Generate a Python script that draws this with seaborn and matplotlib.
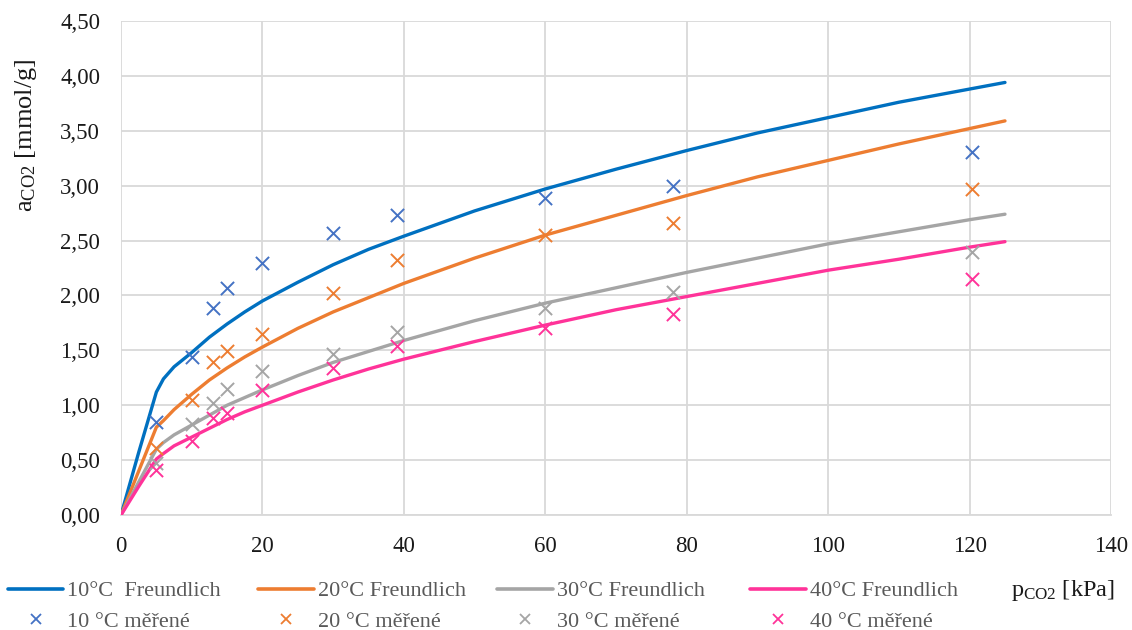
import matplotlib
matplotlib.use("Agg")
import matplotlib.pyplot as plt
import seaborn as sns
from matplotlib.lines import Line2D
from matplotlib.ticker import FuncFormatter, MultipleLocator

# ---------------- data ----------------
p_fit = [0, 2.5, 5, 6, 7.5, 10, 12.5, 15, 17.5, 20, 25, 30, 35, 40, 50, 60, 70, 80, 90, 100, 110, 120, 125]
a_fit_10 = [0, 0.57, 1.12, 1.24, 1.35, 1.48, 1.62, 1.74, 1.85, 1.95, 2.12, 2.28, 2.42, 2.54,
            2.77, 2.97, 3.15, 3.32, 3.48, 3.62, 3.76, 3.88, 3.94]
a_fit_20 = [0, 0.40, 0.80, 0.86, 0.96, 1.10, 1.23, 1.34, 1.44, 1.53, 1.70, 1.85, 1.98, 2.11,
            2.34, 2.55, 2.73, 2.91, 3.08, 3.23, 3.38, 3.52, 3.59]
a_fit_30 = [0, 0.30, 0.60, 0.66, 0.73, 0.82, 0.91, 1.00, 1.07, 1.14, 1.27, 1.39, 1.49, 1.59,
            1.77, 1.93, 2.07, 2.21, 2.34, 2.47, 2.58, 2.69, 2.74]
a_fit_40 = [0, 0.26, 0.51, 0.56, 0.63, 0.71, 0.79, 0.87, 0.94, 1.00, 1.12, 1.23, 1.33, 1.42,
            1.58, 1.73, 1.87, 1.99, 2.11, 2.23, 2.33, 2.44, 2.49]

p_meas = [5, 10, 13, 15, 20, 30, 39, 60, 78, 120.4]
a_meas_10 = [0.85, 1.44, 1.89, 2.07, 2.30, 2.57, 2.73, 2.89, 3.00, 3.31]
a_meas_20 = [0.61, 1.05, 1.39, 1.49, 1.65, 2.02, 2.32, 2.55, 2.66, 2.97]
a_meas_30 = [0.47, 0.83, 1.02, 1.15, 1.31, 1.47, 1.67, 1.89, 2.03, 2.40]
a_meas_40 = [0.41, 0.67, 0.88, 0.93, 1.14, 1.34, 1.54, 1.70, 1.83, 2.15]

fit_labels = ["10°C  Freundlich", "20°C Freundlich", "30°C Freundlich", "40°C Freundlich"]
meas_labels = ["10 °C měřené", "20 °C měřené", "30 °C měřené", "40 °C měřené"]
line_colors = ["#0070C0", "#ED7D31", "#A5A5A5", "#FF3399"]
marker_colors = ["#4472C4", "#ED7D31", "#A5A5A5", "#FF3399"]

# ---------------- style ----------------
sns.set_theme(style="white")
plt.rcParams['font.family'] = ['Liberation Serif', 'DejaVu Serif']
plt.rcParams['mathtext.fontset'] = 'custom'
plt.rcParams['mathtext.rm'] = 'Liberation Serif'
plt.rcParams['mathtext.it'] = 'Liberation Serif:italic'

fig = plt.figure(figsize=(11.32, 6.30), dpi=100)
ax = fig.add_axes([0.1069, 0.1825, 0.8746, 0.7842])

fits = [a_fit_10, a_fit_20, a_fit_30, a_fit_40]
meas = [a_meas_10, a_meas_20, a_meas_30, a_meas_40]

for y, c in zip(fits, line_colors):
    sns.lineplot(x=p_fit, y=y, ax=ax, color=c, linewidth=2.4, legend=False,
                 sort=False, solid_capstyle='round', solid_joinstyle='round', zorder=3)
for y, c in zip(meas, marker_colors):
    sns.scatterplot(x=p_meas, y=y, ax=ax, color=c, marker='x', s=90,
                    linewidth=1.4, legend=False, zorder=4)

ax.set_xlim(0, 140)
ax.set_ylim(0, 4.5)
ax.xaxis.set_major_locator(MultipleLocator(20))
ax.yaxis.set_major_locator(MultipleLocator(0.5))
ax.yaxis.set_major_formatter(FuncFormatter(lambda v, _: f"{v:.2f}".replace(".", ",")))
ax.grid(True, color="#D9D9D9", linewidth=1.3)
ax.set_axisbelow(True)
for s in ax.spines.values():
    s.set_visible(False)
ax.spines['bottom'].set_visible(True)
ax.spines['bottom'].set_color("#D9D9D9")
ax.spines['bottom'].set_linewidth(1.3)
ax.tick_params(axis='both', length=0, labelsize=16.5, labelcolor="#1a1a1a")
ax.tick_params(axis='y', pad=15)
ax.tick_params(axis='x', pad=15)
ax.set_xlabel("")
ax.set_ylabel("")

fig.text(0.023, 0.786, r"a$_{\mathrm{CO2}}$ [mmol/g]", rotation=90, fontsize=19,
         color="#1a1a1a", ha='center', va='center')
fig.text(0.985, 0.063, r"p$_{\mathrm{CO2}}$ [kPa]", fontsize=17.5,
         color="#1a1a1a", ha='right', va='center')

# legends: four columns placed individually
col_x = [0.007, 0.228, 0.439, 0.6625]
for i in range(4):
    handles = [Line2D([0], [0], color=line_colors[i], lw=2.6),
               Line2D([0], [0], color=marker_colors[i], marker='x', linestyle='none',
                      markersize=7, markeredgewidth=1.3)]
    leg = fig.legend(handles, [fit_labels[i], meas_labels[i]], loc='upper left',
                     bbox_to_anchor=(col_x[i], 0.078), frameon=False, fontsize=16,
                     handlelength=2.5, handletextpad=0.18, labelspacing=0.45,
                     borderaxespad=0.0, borderpad=0.0)
    for t in leg.get_texts():
        t.set_color("#595959")

fig.savefig("out.png", dpi=100)
